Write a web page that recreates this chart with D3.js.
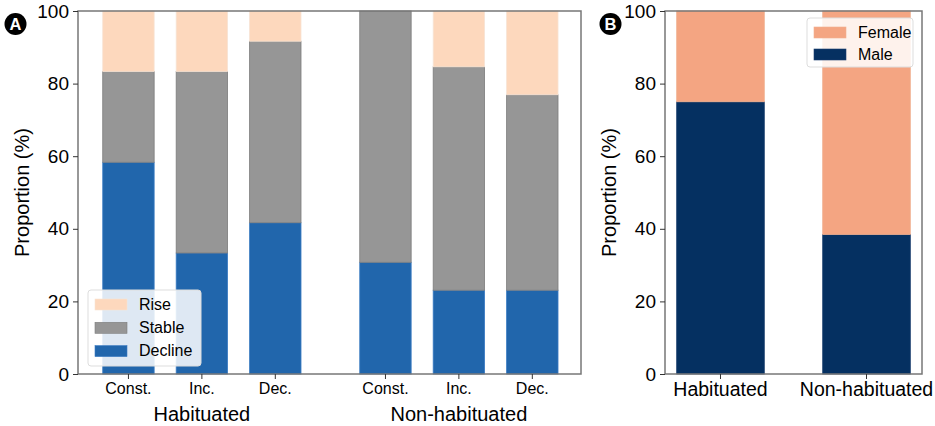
<!DOCTYPE html>
<html>
<head>
<meta charset="utf-8">
<script src="https://cdn.jsdelivr.net/npm/d3@7"></script>
<style>
  body { margin: 0; background: #fff; }
  svg { font-family: "Liberation Sans", Arial, sans-serif; }
</style>
</head>
<body>
<div id="chart"></div>
<script>
// panel A data
var trendLabels = ["Const.", "Inc.", "Dec.", "Const.", "Inc.", "Dec."];
var trendPos = [0, 1, 2, 3.5, 4.5, 5.5];
var declineVals = [58.33, 33.33, 41.67, 30.77, 23.08, 23.08];
var stableVals = [25.0, 50.0, 50.0, 69.23, 61.54, 53.85];
var riseVals = [16.67, 16.67, 8.33, 0, 15.38, 23.08];
var groupLabels = ["Habituated", "Non-habituated"];
var groupCentre = [1, 4.5];

// panel B data
var sexCats = ["Habituated", "Non-habituated"];
var maleVals = [75.0, 38.46];
var femaleVals = [25.0, 61.54];

var yTicks = [0, 20, 40, 60, 80, 100];

var W = 935, H = 426;
var svg = d3.select("#chart").append("svg")
  .attr("width", W)
  .attr("height", H);

var plotTop = 11, plotBottom = 374;
var y = d3.scaleLinear().domain([0, 100]).range([plotBottom, plotTop]);

function yAxis(g, x0) {
  var ax = g.append("g")
    .attr("transform", "translate(" + x0 + ",0)")
    .call(d3.axisLeft(y).tickValues(yTicks).tickSize(5).tickPadding(4));
  ax.select(".domain").remove();
  ax.selectAll("line").attr("stroke", "#333").attr("stroke-width", 1);
  ax.selectAll("text").attr("font-size", 19).attr("fill", "#000")
    .attr("font-family", "Liberation Sans, Arial, sans-serif");
}

function frame(g, x0, x1) {
  g.append("rect")
    .attr("x", x0).attr("y", plotTop)
    .attr("width", x1 - x0).attr("height", plotBottom - plotTop)
    .attr("fill", "none")
    .attr("stroke", "#777")
    .attr("stroke-width", 1.5);
}

function badge(letter, cx, cy) {
  svg.append("circle").attr("cx", cx).attr("cy", cy).attr("r", 11).attr("fill", "#000");
  svg.append("text").attr("x", cx).attr("y", cy + 6)
    .attr("text-anchor", "middle").attr("font-size", 16.5).attr("font-weight", "bold")
    .attr("fill", "#fff").text(letter);
}

function legend(g, x, yy, w, h, items) {
  g.append("rect")
    .attr("x", x).attr("y", yy).attr("width", w).attr("height", h)
    .attr("rx", 3)
    .attr("fill", "#fff").attr("fill-opacity", 0.85)
    .attr("stroke", "#ddd");
  items.forEach(function (d, i) {
    var ey = yy + 9 + i * d.step;
    g.append("rect").attr("x", x + 7).attr("y", ey)
      .attr("width", 32).attr("height", 11)
      .attr("fill", d.color).attr("stroke", d.edge).attr("stroke-width", 0.6);
    g.append("text").attr("x", x + 51).attr("y", ey + 10.5)
      .attr("font-size", 16).text(d.label);
  });
}

// ---------- panel A ----------
var ax0 = 78, ax1 = 581;
var xA = d3.scaleLinear().domain([-0.687, 6.163]).range([ax0, ax1]);
var bwA = xA(0.7) - xA(0);

var rowsA = trendLabels.map(function (t, i) {
  return { pos: trendPos[i], Decline: declineVals[i], Stable: stableVals[i], Rise: riseVals[i] };
});
var keysA = ["Decline", "Stable", "Rise"];
var colA = { Decline: "#2166ac", Stable: "#969696", Rise: "#fdd8bd" };
var edgeA = { Decline: "#3a7bc2", Stable: "#7d7d7d", Rise: "#f7e3d4" };

var gA = svg.append("g");
var stackA = d3.stack().keys(keysA)(rowsA);
gA.selectAll("g.layer")
  .data(stackA)
  .join("g")
  .attr("class", "layer")
  .attr("fill", function (d) { return colA[d.key]; })
  .attr("stroke", function (d) { return edgeA[d.key]; })
  .attr("stroke-width", 0.8)
  .selectAll("rect")
  .data(function (d) { return d.filter(function (s) { return s[1] - s[0] > 0; }); })
  .join("rect")
  .attr("x", function (d) { return xA(d.data.pos) - bwA / 2; })
  .attr("width", bwA)
  .attr("y", function (d) { return y(d[1]); })
  .attr("height", function (d) { return y(d[0]) - y(d[1]); });

frame(gA, ax0, ax1);
yAxis(gA, ax0);

var xtA = gA.append("g").attr("transform", "translate(0," + plotBottom + ")");
trendPos.forEach(function (p, i) {
  xtA.append("line").attr("x1", xA(p)).attr("x2", xA(p)).attr("y1", 0).attr("y2", 5).attr("stroke", "#333");
  xtA.append("text").attr("x", xA(p)).attr("y", 19.5)
    .attr("text-anchor", "middle").attr("font-size", 16).text(trendLabels[i]);
});
groupLabels.forEach(function (g, i) {
  gA.append("text").attr("x", xA(groupCentre[i])).attr("y", 421)
    .attr("text-anchor", "middle").attr("font-size", 20).text(g);
});
gA.append("text")
  .attr("transform", "translate(29," + ((plotTop + plotBottom) / 2) + ") rotate(-90)")
  .attr("text-anchor", "middle").attr("font-size", 20).text("Proportion (%)");

legend(gA, 88, 290, 113, 76, [
  { label: "Rise", color: colA.Rise, edge: edgeA.Rise, step: 23.3 },
  { label: "Stable", color: colA.Stable, edge: edgeA.Stable, step: 23.3 },
  { label: "Decline", color: colA.Decline, edge: edgeA.Decline, step: 23.3 }
]);
badge("A", 15.5, 24);

// ---------- panel B ----------
var bx0 = 665, bx1 = 922;
var xB = d3.scaleLinear().domain([-0.38, 1.38]).range([bx0, bx1]);
var bwB = xB(0.6) - xB(0);
var rowsB = sexCats.map(function (c, i) { return { pos: i, Male: maleVals[i], Female: femaleVals[i] }; });
var colB = { Male: "#053061", Female: "#f4a582" };
var edgeB = { Male: "#1c3f6e", Female: "#f0b090" };

var gB = svg.append("g");
gB.selectAll("g.layer")
  .data(d3.stack().keys(["Male", "Female"])(rowsB))
  .join("g")
  .attr("class", "layer")
  .attr("fill", function (d) { return colB[d.key]; })
  .attr("stroke", function (d) { return edgeB[d.key]; })
  .attr("stroke-width", 0.8)
  .selectAll("rect")
  .data(function (d) { return d; })
  .join("rect")
  .attr("x", function (d) { return xB(d.data.pos) - bwB / 2; })
  .attr("width", bwB)
  .attr("y", function (d) { return y(d[1]); })
  .attr("height", function (d) { return y(d[0]) - y(d[1]); });

frame(gB, bx0, bx1);
yAxis(gB, bx0);

var xtB = gB.append("g").attr("transform", "translate(0," + plotBottom + ")");
sexCats.forEach(function (c, i) {
  xtB.append("line").attr("x1", xB(i)).attr("x2", xB(i)).attr("y1", 0).attr("y2", 5).attr("stroke", "#333");
  xtB.append("text").attr("x", xB(i)).attr("y", 22)
    .attr("text-anchor", "middle").attr("font-size", 19.5).text(c);
});
gB.append("text")
  .attr("transform", "translate(616," + ((plotTop + plotBottom) / 2) + ") rotate(-90)")
  .attr("text-anchor", "middle").attr("font-size", 20).text("Proportion (%)");

legend(gB, 807, 18, 106, 49, [
  { label: "Female", color: colB.Female, edge: edgeB.Female, step: 22 },
  { label: "Male", color: colB.Male, edge: edgeB.Male, step: 22 }
]);
badge("B", 610.5, 24);
</script>
</body>
</html>
